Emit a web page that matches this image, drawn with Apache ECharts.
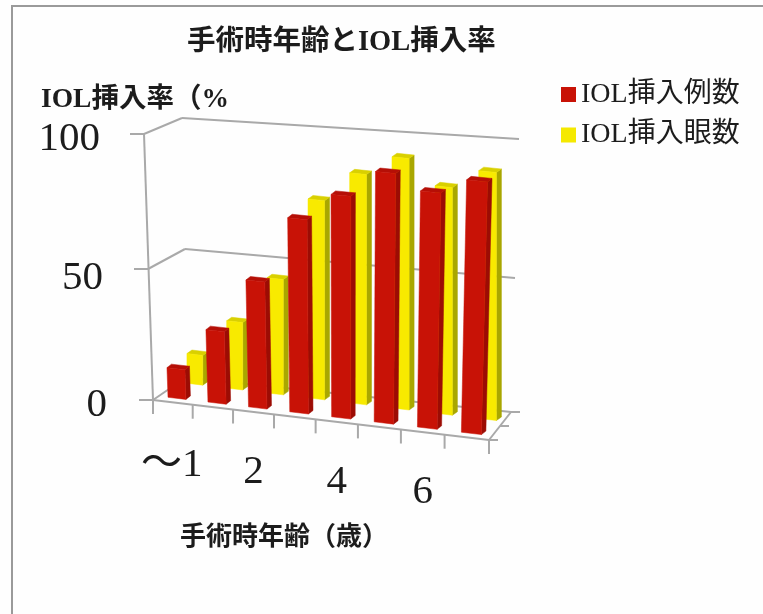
<!DOCTYPE html>
<html>
<head>
<meta charset="utf-8">
<script src="https://cdn.jsdelivr.net/npm/echarts@6/dist/echarts.min.js"></script>
<style>html,body{margin:0;padding:0;background:#fefefe}#c{width:763px;height:614px}</style>
</head>
<body>
<div id="c"></div>
<script>
// Surgical age vs. IOL implantation rate, drawn as a pseudo-3D column chart.
const ageCategories = ['～1', '1', '2', '3', '4', '5', '6', '7'];
const casesRate = [11.3, 27.5, 48, 72.6, 82.8, 92.8, 87.3, 93];
const eyesRate = [11.3, 25.5, 43.5, 74.3, 85.5, 93, 84, 91.2];
const valueTicks = [0, 50, 100];
const casesName = 'IOL挿入例数';
const eyesName = 'IOL挿入眼数';

const SERIF_JP = '"Liberation Serif","Noto Sans CJK JP",serif';

// Hidden cartesian grid: the axes supply the scales, warp() tilts the result.
const GRID = { left: 144, top: 139, width: 345, height: 266 };

// Screen corners of the tilted planes at values 0, 50 and 100.
const frontLeft = [[153, 400], [148, 269], [144, 134]];
const frontRight = [[489, 440], [492, 305], [496, 168]];
const rearBarLeft = [[156, 400], [156, 269], [156, 134]];
const rearBarRight = [[488, 440], [488, 305], [488, 168]];
const backLeft = [[172, 376], [185, 249], [182, 118]];
const backRight = [[511, 412], [515, 278], [519, 139]];
const floorLeftEnd = [172, 387];

const lerp = (a, b, t) => a + (b - a) * t;
const lerpPt = (p, q, t) => [lerp(p[0], q[0], t), lerp(p[1], q[1], t)];
function alongValue(knots, v) {
  return v <= 50 ? lerpPt(knots[0], knots[1], v / 50) : lerpPt(knots[1], knots[2], (v - 50) / 50);
}
// Slight foreshortening along the category direction.
const foreshorten = s => s / (1 + 0.066 * (1 - s));

function warp(u, v, lKnots, rKnots) {
  return lerpPt(alongValue(lKnots || frontLeft, v), alongValue(rKnots || frontRight, v), foreshorten(u / ageCategories.length));
}
// Converts a pixel returned by the hidden grid back to (category units, value).
function gridToUnits(pt) {
  return [
    (pt[0] - GRID.left) / GRID.width * ageCategories.length,
    (GRID.top + GRID.height - pt[1]) / GRID.height * 100
  ];
}

const BAR_STYLES = {
  cases: { u0: 0.38, u1: 0.83, dy: -4.5, sx: 4.5, sy: -3.5, left: frontLeft, right: frontRight,
           front: '#c81206', side: '#9c0c04', top: '#b50f06' },
  eyes: { u0: 0.79, u1: 1.19, dy: -20.5, sx: 5, sy: -3.5, left: rearBarLeft, right: rearBarRight,
          front: '#f8ea00', side: '#a9a700', top: '#d9d000' }
};

function barRenderer(style) {
  return function (params, api) {
    const i = api.value(0);
    const baseC = gridToUnits(api.coord([i, 0]));
    const topC = gridToUnits(api.coord([i, api.value(1)]));
    const start = baseC[0] - 0.5;
    const at = (u, v) => {
      const p = warp(start + u, v, style.left, style.right);
      return [p[0], p[1] + style.dy];
    };
    const bl = at(style.u0, baseC[1]);
    const br = at(style.u1, baseC[1]);
    const tl = at(style.u0, topC[1]);
    const tr = at(style.u1, topC[1]);
    const back = p => [p[0] + style.sx, p[1] + style.sy];
    const poly = (points, fill) => ({
      type: 'polygon', shape: { points }, style: { fill, stroke: fill, lineWidth: 0.5 }
    });
    return {
      type: 'group',
      children: [
        poly([br, tr, back(tr), back(br)], style.side),
        poly([tl, tr, back(tr), back(tl)], style.top),
        poly([bl, br, tr, tl], style.front)
      ]
    };
  };
}

const LINE = { stroke: '#a9a9a9', lineWidth: 2, fill: null };
function seg(a, b) {
  return { type: 'line', shape: { x1: a[0], y1: a[1], x2: b[0], y2: b[1] }, style: LINE };
}

// Walls, gridlines, floor and tick marks of the box.
function renderFrame(params, api) {
  const n = ageCategories.length;
  const kids = [];
  valueTicks.forEach(tick => {
    const v = gridToUnits(api.coord([0, tick]))[1];
    const f = warp(0, v);
    const bl = warp(0, v, backLeft, backRight);
    const br = warp(n, v, backLeft, backRight);
    kids.push(seg([f[0] - 14, f[1]], f), seg(f, v < 1 ? floorLeftEnd : bl), seg(bl, br));
  });
  kids.push(seg(warp(0, 0), warp(0, 100)));
  const fr = warp(n, 0);
  const bk = warp(n, 0, backLeft, backRight);
  kids.push(seg(warp(0, 0), fr), seg(fr, bk));
  kids.push(seg(fr, [fr[0] + 9, fr[1]]), seg(bk, [bk[0] + 9, bk[1]]));
  const sideMid = lerpPt(fr, bk, 0.5);
  kids.push(seg(sideMid, [sideMid[0] + 9, sideMid[1]]));
  for (let i = 0; i <= n; i++) {
    const p = warp(i, 0);
    kids.push(seg(p, [p[0], p[1] + 14]));
  }
  return { type: 'group', children: kids };
}

// Every second category carries a label, hanging below the slanted floor edge.
function renderAgeLabel(params, api) {
  const i = api.value(0);
  if (i % 2) return null;
  const c = gridToUnits(api.coord([i, 0]));
  const p = warp(c[0], c[1]);
  return {
    type: 'text',
    style: {
      x: p[0] + (i === 0 ? -1 : 0),
      y: p[1] + (i === 0 ? 63 : 60),
      text: ageCategories[i],
      fill: '#1c1c1c',
      font: '41px ' + SERIF_JP,
      textAlign: 'center',
      textVerticalAlign: 'middle'
    }
  };
}

const chart = echarts.init(document.getElementById('c'), null, { renderer: 'canvas' });
chart.setOption({
  animation: false,
  backgroundColor: '#fefefe',
  title: [
    { text: '手術時年齢とIOL挿入率', left: 187, top: 28, padding: 0,
      textStyle: { fontFamily: SERIF_JP, fontSize: 28.5, fontWeight: 'bold', color: '#1c1c1c' } },
    { text: 'IOL挿入率（%', left: 41, top: 86, padding: 0,
      textStyle: { fontFamily: SERIF_JP, fontSize: 27.5, fontWeight: 'bold', color: '#1c1c1c' } },
    { text: '手術時年齢（歳）', left: 180, top: 525, padding: 0,
      textStyle: { fontFamily: SERIF_JP, fontSize: 26, fontWeight: 'bold', color: '#1c1c1c' } }
  ],
  legend: {
    left: 556, top: 75.5, orient: 'vertical', itemWidth: 15, itemHeight: 15, itemGap: 12.5,
    icon: 'rect', selectedMode: false,
    data: [casesName, eyesName],
    textStyle: { fontFamily: SERIF_JP, fontSize: 28, color: '#1c1c1c' }
  },
  grid: { left: GRID.left, top: GRID.top, width: GRID.width, height: GRID.height, containLabel: false },
  xAxis: {
    type: 'category', data: ageCategories,
    axisLine: { show: false }, axisTick: { show: false }, axisLabel: { show: false }, splitLine: { show: false }
  },
  yAxis: {
    type: 'value', min: 0, max: 100, interval: 50,
    axisLine: { show: false }, axisTick: { show: false }, splitLine: { show: false },
    axisLabel: {
      margin: 37,
      color: '#1c1c1c',
      fontFamily: SERIF_JP,
      fontSize: 41,
      formatter: v => v === 100 ? '{hi|100}' : v === 50 ? '{mid|50}' : '{lo|0}',
      rich: {
        hi: { fontFamily: SERIF_JP, fontSize: 41, color: '#1c1c1c', padding: [0, 7, 0, 0] },
        mid: { fontFamily: SERIF_JP, fontSize: 41, color: '#1c1c1c', padding: [12, 4, 0, 0] },
        lo: { fontFamily: SERIF_JP, fontSize: 41, color: '#1c1c1c' }
      }
    }
  },
  series: [
    { name: 'frame', type: 'custom', silent: true, clip: false, z: 1, data: [[0]],
      encode: { x: 0 }, renderItem: renderFrame },
    { name: eyesName, type: 'custom', clip: false, z: 2, itemStyle: { color: '#f5e900' },
      data: eyesRate.map((v, i) => [i, v]), encode: { x: 0, y: 1 }, renderItem: barRenderer(BAR_STYLES.eyes) },
    { name: casesName, type: 'custom', clip: false, z: 3, itemStyle: { color: '#c81206' },
      data: casesRate.map((v, i) => [i, v]), encode: { x: 0, y: 1 }, renderItem: barRenderer(BAR_STYLES.cases) },
    { name: 'ages', type: 'custom', silent: true, clip: false, z: 4,
      data: ageCategories.map((c, i) => [i]), encode: { x: 0 }, renderItem: renderAgeLabel }
  ],
  graphic: [
    { type: 'polyline', z: 0, silent: true, shape: { points: [[12, 614], [12, 6], [763, 6]] },
      style: { stroke: '#9a9a9a', lineWidth: 2, fill: null } }
  ]
});
</script>
</body>
</html>
